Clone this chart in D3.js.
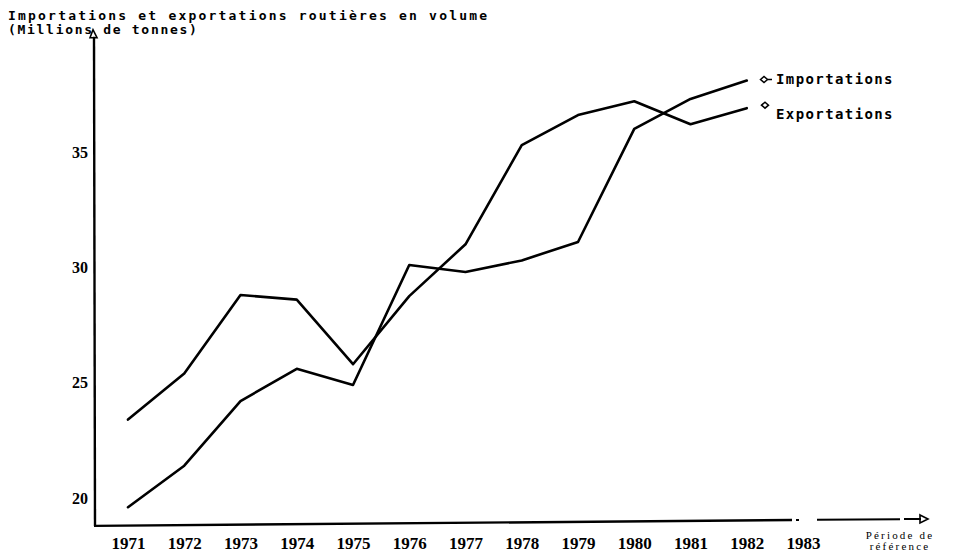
<!DOCTYPE html>
<html>
<head>
<meta charset="utf-8">
<script src="https://cdn.jsdelivr.net/npm/d3@7"></script>
<style>
  body { margin: 0; background: #fff; }
  svg { display: block; }
</style>
</head>
<body>
<svg id="chart" width="962" height="553" viewBox="0 0 962 553"></svg>
<script>
// data (millions de tonnes)
const years = [1971, 1972, 1973, 1974, 1975, 1976, 1977, 1978, 1979, 1980, 1981, 1982];
const tickYears = [1971, 1972, 1973, 1974, 1975, 1976, 1977, 1978, 1979, 1980, 1981, 1982, 1983];
const importations = [19.6, 21.4, 24.2, 25.6, 24.9, 30.1, 29.8, 30.3, 31.1, 36.0, 37.3, 38.1];
const exportations = [23.4, 25.4, 28.8, 28.6, 25.8, 28.75, 31.0, 35.3, 36.6, 37.2, 36.2, 36.9];
const yTicks = [20, 25, 30, 35];
const seriesNames = ["Importations", "Exportations"];

const monoFont = "'DejaVu Sans Mono', monospace";
const serifFont = "'Liberation Serif', 'DejaVu Serif', serif";

const svg = d3.select("#chart");

const xScale = d3.scalePoint().domain(tickYears).range([128, 803]);
const yScale = d3.scaleLinear().domain([20, 35]).range([498, 152]);

const axisLeftX = 95;
const axisBottomY = yScale(18.79);
const axisTopY = yScale(40.3);

// titles
svg.append("text")
  .attr("x", 8).attr("y", 20)
  .style("font-family", monoFont)
  .style("font-size", "13px")
  .style("font-weight", "bold")
  .style("letter-spacing", "2.2px")
  .text("Importations et exportations routières en volume");

svg.append("text")
  .attr("x", 8).attr("y", 34)
  .style("font-family", monoFont)
  .style("font-size", "13px")
  .style("font-weight", "bold")
  .style("letter-spacing", "1.7px")
  .text("(Millions de tonnes)");

// y axis with hollow arrow
const axes = svg.append("g").attr("class", "axes")
  .attr("stroke", "#000").attr("fill", "none");

axes.append("line")
  .attr("x1", axisLeftX).attr("x2", axisLeftX - 1)
  .attr("y1", axisBottomY).attr("y2", axisTopY + 7)
  .attr("stroke-width", 2.4);

axes.append("path")
  .attr("d", `M${axisLeftX - 5},${axisTopY + 8} L${axisLeftX - 2},${axisTopY} L${axisLeftX + 2},${axisTopY + 8} Z`)
  .attr("stroke-width", 1.6);

// x axis (slightly skewed like the scan) with hollow arrow
const xEnd = 928;
const yEnd = axisBottomY - 7;
const yAt = (x) => axisBottomY + (yEnd - axisBottomY) * (x - axisLeftX) / (xEnd - axisLeftX);

axes.append("line")
  .attr("x1", axisLeftX - 1).attr("y1", axisBottomY)
  .attr("x2", 792).attr("y2", yAt(792))
  .attr("stroke-width", 2.4);
axes.append("line")
  .attr("x1", 796).attr("y1", yAt(796))
  .attr("x2", 799).attr("y2", yAt(799))
  .attr("stroke-width", 2);
axes.append("line")
  .attr("x1", 817).attr("y1", yAt(817))
  .attr("x2", 900).attr("y2", yAt(900))
  .attr("stroke-width", 2);
axes.append("line")
  .attr("x1", 904).attr("y1", yAt(904))
  .attr("x2", xEnd - 7).attr("y2", yAt(xEnd - 7))
  .attr("stroke-width", 2);
axes.append("path")
  .attr("d", `M${xEnd - 8},${yEnd - 4} L${xEnd},${yEnd} L${xEnd - 8},${yEnd + 4} Z`)
  .attr("stroke-width", 1.6);

// tick labels
const yAxis = d3.axisLeft(yScale).tickValues(yTicks).tickSize(0).tickPadding(0);
const yAxisG = svg.append("g")
  .attr("transform", `translate(88 0)`)
  .call(yAxis);
yAxisG.select("path").remove();
yAxisG.selectAll("text")
  .style("font-family", serifFont)
  .style("font-size", "16px")
  .style("font-weight", "bold")
  .attr("fill", "#000");

const xAxis = d3.axisBottom(xScale).tickSize(0).tickPadding(0);
const xAxisG = svg.append("g")
  .attr("transform", `translate(0 537)`)
  .call(xAxis);
xAxisG.select("path").remove();
xAxisG.selectAll("text")
  .attr("dy", "0.72em")
  .style("font-family", serifFont)
  .style("font-size", "17px")
  .style("font-weight", "bold")
  .attr("fill", "#000");

// "Période de référence"
svg.append("text")
  .attr("x", 900).attr("y", 539)
  .attr("text-anchor", "middle")
  .style("font-family", serifFont)
  .style("font-size", "11px")
  .style("letter-spacing", "2.2px")
  .text("Période de");
svg.append("text")
  .attr("x", 900).attr("y", 550)
  .attr("text-anchor", "middle")
  .style("font-family", serifFont)
  .style("font-size", "11px")
  .style("letter-spacing", "2.2px")
  .text("référence");

// lines
const line = d3.line()
  .x((d) => xScale(d.year))
  .y((d) => yScale(d.value));

const series = [
  { name: seriesNames[0], values: years.map((y, i) => ({ year: y, value: importations[i] })) },
  { name: seriesNames[1], values: years.map((y, i) => ({ year: y, value: exportations[i] })) },
];

svg.append("g")
  .selectAll("path")
  .data(series)
  .enter()
  .append("path")
  .attr("d", (d) => line(d.values))
  .attr("fill", "none")
  .attr("stroke", "#000")
  .attr("stroke-width", 2.6)
  .attr("stroke-linejoin", "round")
  .attr("stroke-linecap", "round");

// legend labels next to line ends
const legend = svg.append("g").attr("class", "legend");

function diamond(g, cx, cy) {
  g.append("path")
    .attr("d", `M${cx - 3.5},${cy} L${cx},${cy - 3} L${cx + 3.5},${cy} L${cx},${cy + 3} Z`)
    .attr("fill", "none")
    .attr("stroke", "#000")
    .attr("stroke-width", 1.5);
}

const lastImp = yScale(importations[importations.length - 1]);
const lastExp = yScale(exportations[exportations.length - 1]);

diamond(legend, 764, lastImp - 1);
legend.append("line")
  .attr("x1", 767.5).attr("x2", 772)
  .attr("y1", lastImp - 1).attr("y2", lastImp - 1)
  .attr("stroke", "#000").attr("stroke-width", 1.5);
legend.append("text")
  .attr("x", 776).attr("y", lastImp + 4)
  .style("font-family", monoFont)
  .style("font-size", "14px")
  .style("font-weight", "bold")
  .style("letter-spacing", "1.4px")
  .text(seriesNames[0]);

diamond(legend, 765, lastExp - 3);
legend.append("text")
  .attr("x", 776).attr("y", lastExp + 11)
  .style("font-family", monoFont)
  .style("font-size", "14px")
  .style("font-weight", "bold")
  .style("letter-spacing", "1.4px")
  .text(seriesNames[1]);
</script>
</body>
</html>
